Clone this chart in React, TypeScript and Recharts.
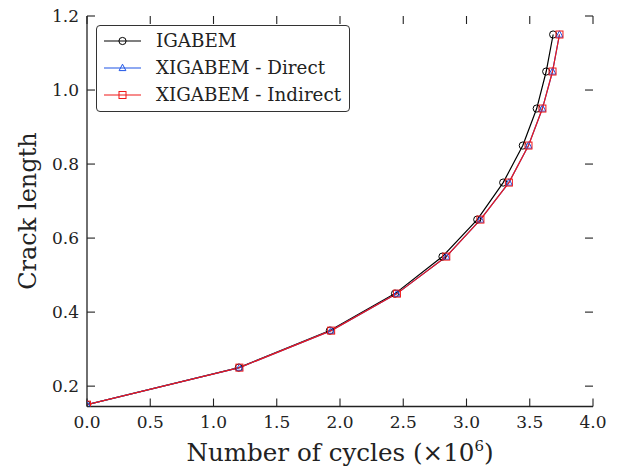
import React from "react";
import { LineChart, Line, XAxis, YAxis, ReferenceLine } from "recharts";

// crack length at each step (same for all three runs)
const crackLength = [0.15, 0.25, 0.35, 0.45, 0.55, 0.65, 0.75, 0.85, 0.95, 1.05, 1.15];
// cycles (x 10^6) needed to reach each crack length
const cyclesIgabem = [0, 1.2, 1.92, 2.435, 2.81, 3.085, 3.29, 3.445, 3.555, 3.63, 3.685];
const cyclesDirect = [0, 1.205, 1.93, 2.45, 2.84, 3.11, 3.335, 3.49, 3.6, 3.68, 3.735];
const cyclesIndirect = [0, 1.205, 1.93, 2.45, 2.84, 3.11, 3.335, 3.49, 3.6, 3.68, 3.735];

const xTicks = [0, 0.5, 1, 1.5, 2, 2.5, 3, 3.5, 4];
const yTicks = [0.2, 0.4, 0.6, 0.8, 1.0, 1.2];
const X_DOMAIN: [number, number] = [0, 4];
const Y_DOMAIN: [number, number] = [0.145, 1.2];

const FONT = "'DejaVu Serif', serif";
const INK = "#222";
const TICK_LEN = 8;
const OFF = 18; // tickSize + tickMargin

// chart box and plot margins
const W = 622;
const H = 471;
const M = { top: 16, right: 29, bottom: 64.5, left: 87 };
const PLOT_W = W - M.left - M.right;
const PLOT_H = H - M.top - M.bottom;
// tick length expressed in data units of each axis
const xTickLen = (TICK_LEN * (X_DOMAIN[1] - X_DOMAIN[0])) / PLOT_W;
const yTickLen = (TICK_LEN * (Y_DOMAIN[1] - Y_DOMAIN[0])) / PLOT_H;

type Marker = "circle" | "triangle" | "square";

const toPoints = (xs: number[]) => xs.map((x, i) => ({ x, y: crackLength[i] }));

const series = [
  { name: "IGABEM", color: "#000000", marker: "circle" as Marker, data: toPoints(cyclesIgabem) },
  { name: "XIGABEM - Direct", color: "#1f55e6", marker: "triangle" as Marker, data: toPoints(cyclesDirect) },
  { name: "XIGABEM - Indirect", color: "#f01818", marker: "square" as Marker, data: toPoints(cyclesIndirect) },
];

function MarkerShape({ kind, cx, cy, color }: { kind: Marker; cx: number; cy: number; color: string }) {
  if (kind === "circle") return <circle cx={cx} cy={cy} r={3.6} fill="none" stroke={color} strokeWidth={1} />;
  if (kind === "triangle")
    return (
      <polygon
        points={`${cx},${cy - 3.8} ${cx - 3.4},${cy + 2.6} ${cx + 3.4},${cy + 2.6}`}
        fill="none"
        stroke={color}
        strokeWidth={1}
      />
    );
  return <rect x={cx - 3.5} y={cy - 3.5} width={7} height={7} fill="none" stroke={color} strokeWidth={1} />;
}

const fmt = (v: number) => v.toFixed(1);

const BottomTick = (p: any) => (
  <text x={p.x} y={p.y - OFF + 21} textAnchor="middle" fontFamily={FONT} fontSize={17} fill={INK}>
    {fmt(p.payload.value)}
  </text>
);
const LeftTick = (p: any) => (
  <text x={p.x + OFF - 8} y={p.y + 6} textAnchor="end" fontFamily={FONT} fontSize={17} fill={INK}>
    {fmt(p.payload.value)}
  </text>
);
const NoLabel = () => <g />;

const frame = { stroke: INK, strokeWidth: 1.3 };

function LegendBox() {
  return (
    <div
      style={{
        position: "absolute",
        left: 96,
        top: 25,
        width: 254,
        height: 87,
        border: "1px solid #333",
        borderRadius: 4,
        background: "#fff",
        fontFamily: FONT,
        fontSize: 18.3,
        color: INK,
        boxSizing: "border-box",
      }}
    >
      {series.map((s, i) => (
        <div key={s.name} style={{ position: "absolute", left: 6, top: 1 + i * 27, height: 27, display: "flex", alignItems: "center" }}>
          <svg width={40} height={14} style={{ display: "block" }}>
            <line x1={1} y1={7} x2={38} y2={7} stroke={s.color} strokeWidth={1.2} />
            <MarkerShape kind={s.marker} cx={19.5} cy={7} color={s.color} />
          </svg>
          <span style={{ marginLeft: 13, whiteSpace: "nowrap" }}>{s.name}</span>
        </div>
      ))}
    </div>
  );
}

const axisCommon = {
  type: "number" as const,
  allowDataOverflow: true,
  tickSize: 10,
  tickMargin: 8,
  tickLine: false,
  axisLine: frame,
  interval: 0 as const,
};

const tickStyle = { stroke: INK, strokeWidth: 1.1, ifOverflow: "visible" as const, xAxisId: "b", yAxisId: "l" };

export default function App() {
  return (
    <div style={{ position: "absolute", left: 0, top: 0, width: W, height: H, background: "#fff" }}>
      <LineChart width={W} height={H} margin={{ top: M.top, right: M.right, bottom: 0, left: 0 }}>
        <XAxis {...axisCommon} xAxisId="b" dataKey="x" domain={X_DOMAIN} ticks={xTicks} orientation="bottom" height={M.bottom} tick={BottomTick} />
        <XAxis {...axisCommon} xAxisId="t" dataKey="x" domain={X_DOMAIN} ticks={xTicks} orientation="top" height={0} tick={NoLabel} />
        <YAxis {...axisCommon} yAxisId="l" domain={Y_DOMAIN} ticks={yTicks} orientation="left" width={M.left} tick={LeftTick} />
        <YAxis {...axisCommon} yAxisId="r" domain={Y_DOMAIN} ticks={yTicks} orientation="right" width={0} tick={NoLabel} />
        {/* inward tick marks on all four sides */}
        {xTicks.map((t) => (
          <ReferenceLine key={`xb${t}`} {...tickStyle} segment={[{ x: t, y: Y_DOMAIN[0] }, { x: t, y: Y_DOMAIN[0] + yTickLen }]} />
        ))}
        {xTicks.map((t) => (
          <ReferenceLine key={`xt${t}`} {...tickStyle} segment={[{ x: t, y: Y_DOMAIN[1] }, { x: t, y: Y_DOMAIN[1] - yTickLen }]} />
        ))}
        {yTicks.map((t) => (
          <ReferenceLine key={`yl${t}`} {...tickStyle} segment={[{ x: X_DOMAIN[0], y: t }, { x: X_DOMAIN[0] + xTickLen, y: t }]} />
        ))}
        {yTicks.map((t) => (
          <ReferenceLine key={`yr${t}`} {...tickStyle} segment={[{ x: X_DOMAIN[1], y: t }, { x: X_DOMAIN[1] - xTickLen, y: t }]} />
        ))}
        {series.map((s) => (
          <Line
            key={s.name}
            xAxisId="b"
            yAxisId="l"
            data={s.data}
            dataKey="y"
            name={s.name}
            type="linear"
            stroke={s.color}
            strokeWidth={1.2}
            isAnimationActive={false}
            dot={(p: any) => <MarkerShape key={`${s.name}-${p.index}`} kind={s.marker} cx={p.cx} cy={p.cy} color={s.color} />}
            activeDot={false}
          />
        ))}
        <text
          x={28}
          y={211}
          transform="rotate(-90 28 211)"
          textAnchor="middle"
          dominantBaseline="central"
          fontFamily={FONT}
          fontSize={24}
          fill={INK}
        >
          Crack length
        </text>
        <text x={340} y={461} textAnchor="middle" fontFamily={FONT} fontSize={24.6} fill={INK}>
          Number of cycles (×10
          <tspan dy={-10} fontSize={15}>6</tspan>
          <tspan dy={10}>)</tspan>
        </text>
      </LineChart>
      <LegendBox />
    </div>
  );
}
